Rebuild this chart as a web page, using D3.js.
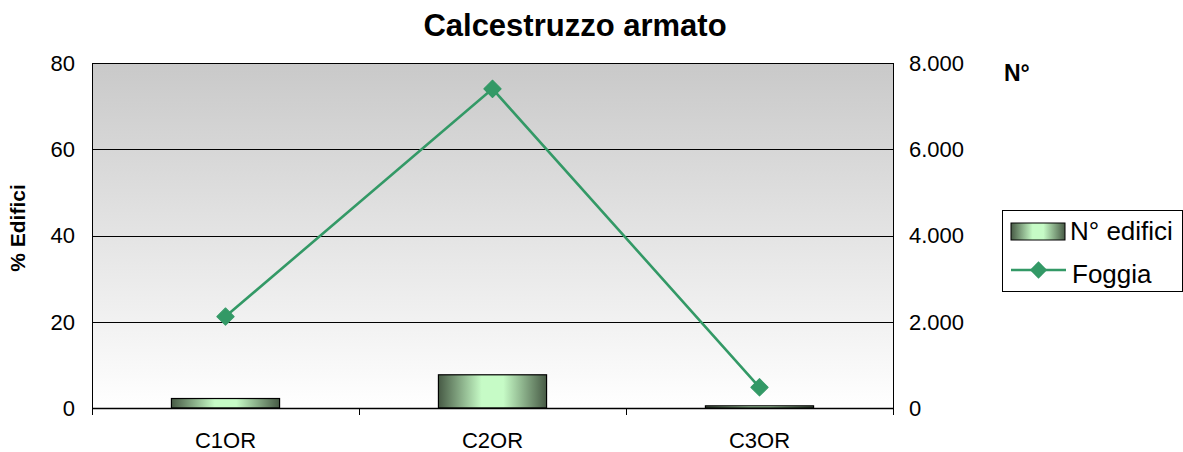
<!DOCTYPE html>
<html>
<head>
<meta charset="utf-8">
<script src="https://cdn.jsdelivr.net/npm/d3@7"></script>
<style>
  body { margin: 0; background: #fff; }
  svg text { font-family: Arial, "Liberation Sans", sans-serif; fill: #000; }
</style>
</head>
<body>
<svg id="chart" width="1183" height="452"></svg>
<script>
// values
const categories = ["C1OR", "C2OR", "C3OR"];
const edifici = [220, 770, 50];          // N° edifici (right axis)
const foggia = [21.2, 74.0, 4.8];        // Foggia % (left axis)
const leftTicks = [0, 20, 40, 60, 80];
const rightTicks = [0, 2000, 4000, 6000, 8000];

const svg = d3.select('#chart');
const plot = { left: 92, right: 893, top: 63, bottom: 408 };
const green = '#339966';

const itFormat = d3.formatLocale({ decimal: ',', thousands: '.', grouping: [3], currency: ['', '€'] }).format(',');

const x = d3.scaleBand().domain(categories).range([plot.left, plot.right]).padding(0);
const yL = d3.scaleLinear().domain([0, 80]).range([plot.bottom, plot.top]);
const yR = d3.scaleLinear().domain([0, 8000]).range([plot.bottom, plot.top]);

const defs = svg.append('defs');
const bg = defs.append('linearGradient').attr('id', 'bg')
    .attr('x1', 0).attr('y1', 0).attr('x2', 0).attr('y2', 1);
bg.append('stop').attr('offset', '0%').attr('stop-color', '#c9c9c9');
bg.append('stop').attr('offset', '100%').attr('stop-color', '#ffffff');

const barGrad = defs.append('linearGradient').attr('id', 'bar')
    .attr('x1', 0).attr('y1', 0).attr('x2', 1).attr('y2', 0);
[[0, '#475a45'], [0.4, '#c6fbc6'], [0.6, '#c6fbc6'], [1, '#475a45']].forEach(s => {
    barGrad.append('stop').attr('offset', s[0]).attr('stop-color', s[1]);
});

// plot background
svg.append('rect')
    .attr('x', plot.left).attr('y', plot.top)
    .attr('width', plot.right - plot.left).attr('height', plot.bottom - plot.top)
    .attr('fill', 'url(#bg)');

// gridlines
svg.append('g').selectAll('line').data(leftTicks.slice(1)).join('line')
    .attr('x1', plot.left).attr('x2', plot.right)
    .attr('y1', d => Math.round(yL(d)) + 0.5).attr('y2', d => Math.round(yL(d)) + 0.5)
    .attr('stroke', '#000').attr('stroke-width', 1);

// bars
const bw = x.bandwidth() * 0.405;
svg.append('g').selectAll('rect').data(edifici).join('rect')
    .attr('x', (d, i) => x(categories[i]) + x.bandwidth() / 2 - bw / 2)
    .attr('y', d => yR(d))
    .attr('width', bw)
    .attr('height', d => plot.bottom - yR(d))
    .attr('fill', 'url(#bar)')
    .attr('stroke', '#000').attr('stroke-width', 1.2);

// axes lines
svg.append('line').attr('x1', plot.left + 0.5).attr('x2', plot.left + 0.5)
    .attr('y1', plot.top).attr('y2', plot.bottom).attr('stroke', '#000');
svg.append('line').attr('x1', plot.right + 0.5).attr('x2', plot.right + 0.5)
    .attr('y1', plot.top).attr('y2', plot.bottom).attr('stroke', '#000');
svg.append('line').attr('x1', plot.left).attr('x2', plot.right + 1)
    .attr('y1', plot.bottom + 0.5).attr('y2', plot.bottom + 0.5)
    .attr('stroke', '#000').attr('stroke-width', 1.5);

// x ticks at category boundaries
const bounds = categories.map(c => x(c)).concat([plot.right]);
svg.append('g').selectAll('line').data(bounds).join('line')
    .attr('x1', d => Math.round(d) + 0.5).attr('x2', d => Math.round(d) + 0.5)
    .attr('y1', plot.bottom).attr('y2', plot.bottom + 7)
    .attr('stroke', '#000');

// tick labels
svg.append('g').selectAll('text').data(leftTicks).join('text')
    .attr('x', 75).attr('y', d => yL(d)).attr('dy', '0.36em')
    .attr('text-anchor', 'end').style('font-size', '22px')
    .text(d => d);
svg.append('g').selectAll('text').data(rightTicks).join('text')
    .attr('x', 909).attr('y', d => yR(d)).attr('dy', '0.36em')
    .attr('text-anchor', 'start').style('font-size', '22px')
    .text(d => itFormat(d));
svg.append('g').selectAll('text').data(categories).join('text')
    .attr('x', d => x(d) + x.bandwidth() / 2).attr('y', 448)
    .attr('text-anchor', 'middle').style('font-size', '22px')
    .text(d => d);

// line + markers
const line = d3.line()
    .x((d, i) => x(categories[i]) + x.bandwidth() / 2)
    .y(d => yL(d));
svg.append('path').datum(foggia)
    .attr('d', line).attr('fill', 'none')
    .attr('stroke', green).attr('stroke-width', 2.6);
const diamond = d3.symbol().type(d3.symbolSquare).size(150);
svg.append('g').selectAll('path').data(foggia).join('path')
    .attr('d', diamond)
    .attr('transform', (d, i) => `translate(${x(categories[i]) + x.bandwidth() / 2},${yL(d)}) rotate(45)`)
    .attr('fill', green).attr('stroke', green).attr('stroke-width', 1).attr('stroke-linejoin', 'round');

// titles
svg.append('text').attr('x', 575).attr('y', 36)
    .attr('text-anchor', 'middle').style('font-size', '31px').style('font-weight', 'bold')
    .text('Calcestruzzo armato');
svg.append('text')
    .attr('transform', 'translate(25,228) rotate(-90)')
    .attr('text-anchor', 'middle').style('font-size', '21px').style('font-weight', 'bold')
    .text('% Edifici');
svg.append('text').attr('x', 1004).attr('y', 81)
    .style('font-size', '23px').style('font-weight', 'bold')
    .text('N°');

// legend
const lg = svg.append('g');
lg.append('rect').attr('x', 1002.5).attr('y', 210.5).attr('width', 180).attr('height', 81)
    .attr('fill', '#fff').attr('stroke', '#000');
lg.append('rect').attr('x', 1011).attr('y', 223).attr('width', 54).attr('height', 17)
    .attr('fill', 'url(#bar)').attr('stroke', '#000');
lg.append('text').attr('x', 1070).attr('y', 240).style('font-size', '26px').text('N° edifici');
lg.append('line').attr('x1', 1011).attr('x2', 1066).attr('y1', 270).attr('y2', 270)
    .attr('stroke', green).attr('stroke-width', 2.6);
lg.append('path').attr('d', diamond)
    .attr('transform', 'translate(1038.5,270) rotate(45)').attr('fill', green);
lg.append('text').attr('x', 1072).attr('y', 283).style('font-size', '26px').text('Foggia');
</script>
</body>
</html>
